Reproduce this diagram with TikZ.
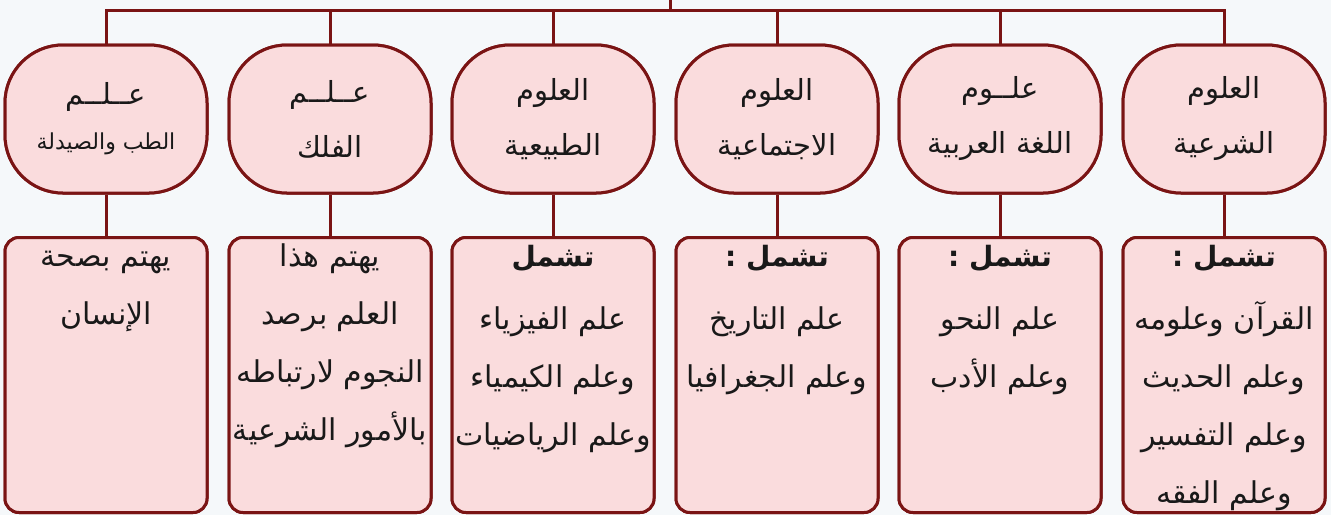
\documentclass[tikz,border=0pt]{standalone}
\usepackage{fontspec}
\TeXXeTstate=1
\newfontfamily\arabicfont[Script=Arabic]{DejaVu Sans}
\newcommand{\AR}[1]{\beginR #1\endR}
\newcommand{\firststrut}{\rule{0pt}{28pt}}
\definecolor{frame}{HTML}{7A1414}
\definecolor{boxfill}{HTML}{FADCDD}
\definecolor{bg}{HTML}{F5F8FA}
\begin{document}
\begin{tikzpicture}[x=1pt,y=1pt,
  conn/.style={draw=frame, line width=3pt},
  topbox/.style={draw=frame, fill=boxfill, line width=3pt, rounded corners=58pt,
     minimum width=202pt, minimum height=148pt, inner sep=0pt},
  botbox/.style={draw=frame, fill=boxfill, line width=3pt, rounded corners=14pt,
     minimum width=202pt, minimum height=275pt, inner sep=0pt},
  toptext/.style={align=center, font=\arabicfont\fontsize{29}{55}\selectfont, text=black!90},
  bottext/.style={align=center, anchor=north, inner sep=0pt,
     font=\arabicfont\fontsize{30}{58}\selectfont, text=black!90}
]
\useasboundingbox (0,0) rectangle (1331,-515);
\fill[bg] (0,0) rectangle (1331,-515);

\foreach \i/\x in {1/106,2/330,3/553,4/777,5/1000,6/1224}{
  \node[topbox] (t\i) at (\x,-119) {};
  \node[botbox] (b\i) at (\x,-375) {};
}
\coordinate (top) at (670,-10);
\coordinate (stub) at (670,0);

% connectors
\draw[conn] (t1.north) -- (t1.north |- top) -- (t6.north |- top) -- (t6.north);
\foreach \i in {2,3,4,5}{ \draw[conn] (t\i.north) -- (t\i.north |- top); }
\draw[conn] (top) -- (stub);
\foreach \i in {1,...,6}{ \draw[conn] (t\i.south) -- (b\i.north); }
\foreach \i/\x in {1/106,2/330,3/553,4/777,5/1000,6/1224}{
  \node[topbox] at (\x,-119) {};
  \node[botbox] at (\x,-375) {};
}

% top labels
\node[toptext] (l1) at (t1) {\AR{عــلــم}\\[-10pt]{\fontsize{22}{40}\selectfont\AR{الطب والصيدلة}}};
\node[toptext] (l2) at (t2) {\AR{عــلــم}\\\AR{الفلك}};
\node[toptext] (l3) at (t3) {\AR{العلوم}\\\AR{الطبيعية}};
\node[toptext] (l4) at (t4) {\AR{العلوم}\\\AR{الاجتماعية}};
\node[toptext] (l5) at (t5) {\AR{علــوم}\\\AR{اللغة العربية}};
\node[toptext] (l6) at (t6) {\AR{العلوم}\\\AR{الشرعية}};

% bottom labels
\def\hd#1{{\bfseries\fontsize{28}{58}\selectfont\firststrut\AR{#1}}}
\node[bottext] (m1) at ([yshift=-2pt]b1.north) {\firststrut\AR{يهتم بصحة}\\\AR{الإنسان}};
\node[bottext] (m2) at ([yshift=-2pt]b2.north) {\firststrut\AR{يهتم هذا}\\\AR{العلم برصد}\\\AR{النجوم لارتباطه}\\\AR{بالأمور الشرعية}};
\node[bottext] (m3) at ([yshift=-2pt]b3.north) {\hd{تشمل}\\[5pt]\AR{علم الفيزياء}\\\AR{وعلم الكيمياء}\\\AR{وعلم الرياضيات}};
\node[bottext] (m4) at ([yshift=-2pt]b4.north) {\hd{تشمل :}\\[5pt]\AR{علم التاريخ}\\\AR{وعلم الجغرافيا}};
\node[bottext] (m5) at ([yshift=-2pt]b5.north) {\hd{تشمل :}\\[5pt]\AR{علم النحو}\\\AR{وعلم الأدب}};
\node[bottext] (m6) at ([yshift=-2pt]b6.north) {\hd{تشمل :}\\[5pt]\AR{القرآن وعلومه}\\\AR{وعلم الحديث}\\\AR{وعلم التفسير}\\\AR{وعلم الفقه}};
\end{tikzpicture}
\end{document}
